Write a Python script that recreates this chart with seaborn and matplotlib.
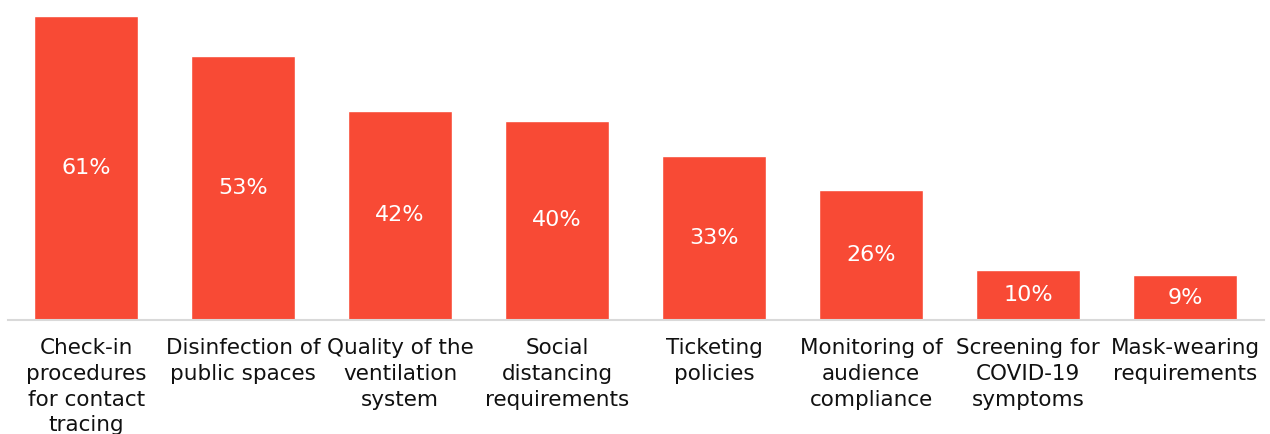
import seaborn as sns  # plotting
import matplotlib.pyplot as plt  # figure handling
import pandas as pd  # data handling

# chart data
categories = [
    "Check-in\nprocedures\nfor contact\ntracing",
    "Disinfection of\npublic spaces",
    "Quality of the\nventilation\nsystem",
    "Social\ndistancing\nrequirements",
    "Ticketing\npolicies",
    "Monitoring of\naudience\ncompliance",
    "Screening for\nCOVID-19\nsymptoms",
    "Mask-wearing\nrequirements",
]
values = [61, 53, 42, 40, 33, 26, 10, 9]

df = pd.DataFrame({"Category": categories, "Value": values})

sns.set_style("white")
plt.rcParams["font.family"] = ["DejaVu Sans"]

fig = plt.figure(figsize=(12.7, 4.34), dpi=100)
ax = fig.add_axes([0.006, 0.2627, 0.989, 0.7373])

sns.barplot(data=df, x="Category", y="Value", color="#F84A35", width=0.66, saturation=1, ax=ax)

# percentage labels centred in each bar
for i, v in enumerate(values):
    ax.text(i, v / 2, f"{v}%", ha="center", va="center", color="white", fontsize=16)

ax.set_xlim(-0.5, 7.5)
ax.set_ylim(0, 64.2)
ax.set_xlabel("")
ax.set_ylabel("")
ax.set_yticks([])
ax.tick_params(axis="x", length=0, pad=13, labelsize=15.5, colors="#111111")
for label in ax.get_xticklabels():
    label.set_linespacing(1.36)
for side in ["top", "left", "right"]:
    ax.spines[side].set_visible(False)
ax.spines["bottom"].set_color("#d9d9d9")
ax.spines["bottom"].set_linewidth(1.5)

fig.savefig("out.png", dpi=100)
